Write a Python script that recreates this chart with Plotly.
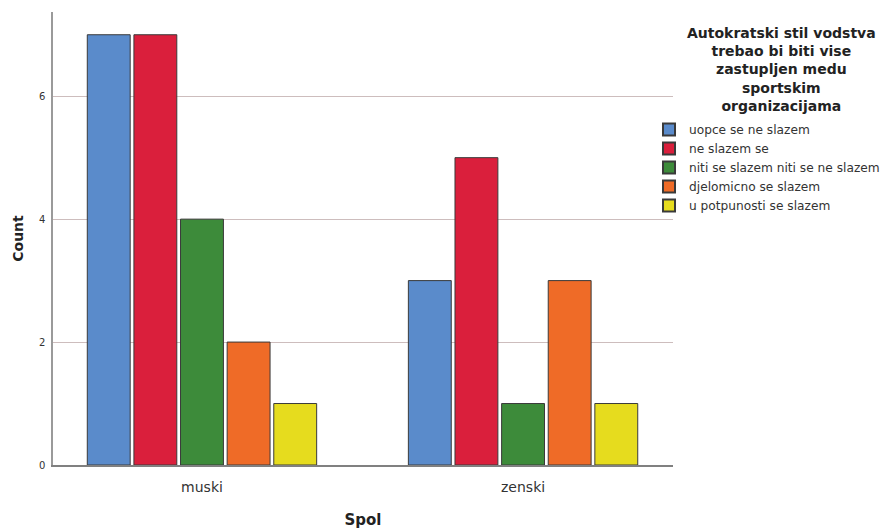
import plotly.graph_objects as go

categories = ["muski", "zenski"]
series_names = ["uopce se ne slazem", "ne slazem se", "niti se slazem niti se ne slazem",
                "djelomicno se slazem", "u potpunosti se slazem"]
values = {
    "uopce se ne slazem": [7, 3],
    "ne slazem se": [7, 5],
    "niti se slazem niti se ne slazem": [4, 1],
    "djelomicno se slazem": [2, 3],
    "u potpunosti se slazem": [1, 1],
}
colors = ["#5a8bcb", "#da1f3c", "#3d8b3a", "#ef6b27", "#e6dc1e"]
y_ticks = [0, 2, 4, 6]
legend_title = "Autokratski stil vodstva<br>trebao bi biti vise<br>zastupljen medu<br>sportskim<br>organizacijama"

fig = go.Figure()
for name, col in zip(series_names, colors):
    fig.add_trace(go.Bar(
        x=categories, y=values[name], name=name,
        marker=dict(color=col, line=dict(color="#3a3a3a", width=1)),
    ))

FONT = "DejaVu Sans, sans-serif"
fig.update_layout(
    width=910, height=521,
    margin=dict(l=45, r=245, t=4, b=64),
    paper_bgcolor="white", plot_bgcolor="white",
    barmode="group", bargap=0.274, bargroupgap=0.08,
    font=dict(family=FONT, color="#222222"),
    showlegend=True,
    legend=dict(
        x=0.9613, xanchor="left", y=0.7726, yanchor="top",
        font=dict(family=FONT, size=12.2, color="#333333"),
        itemwidth=30, tracegroupgap=0, itemsizing="constant",
        bgcolor="rgba(0,0,0,0)",
    ),
    xaxis=dict(
        range=[-0.464, 1.467], automargin=False,
        showline=True, linecolor="#808080", linewidth=1.5,
        showgrid=False, ticks="", tickfont=dict(size=14, color="#333333"),
        ticklabelstandoff=8,
        title=dict(text="Spol", font=dict(size=15, weight="bold", color="#222222"), standoff=21),
    ),
    yaxis=dict(
        range=[0, 7.37], tickvals=y_ticks, automargin=False,
        showline=True, linecolor="#9a9a9a", linewidth=1.5,
        showgrid=True, gridcolor="#cdbdbd", gridwidth=1, zeroline=False,
        ticks="", tickfont=dict(size=10, color="#333333"), ticklabelstandoff=4,
        title=dict(text="Count", font=dict(size=14, weight="bold", color="#222222"), standoff=12),
    ),
    annotations=[dict(
        text=legend_title, xref="paper", yref="paper",
        x=1.1758, y=0.9757, xanchor="center", yanchor="top",
        showarrow=False, align="center",
        font=dict(family=FONT, size=14, weight="bold", color="#222222"),
    )],
)

fig.write_html("out.html")
